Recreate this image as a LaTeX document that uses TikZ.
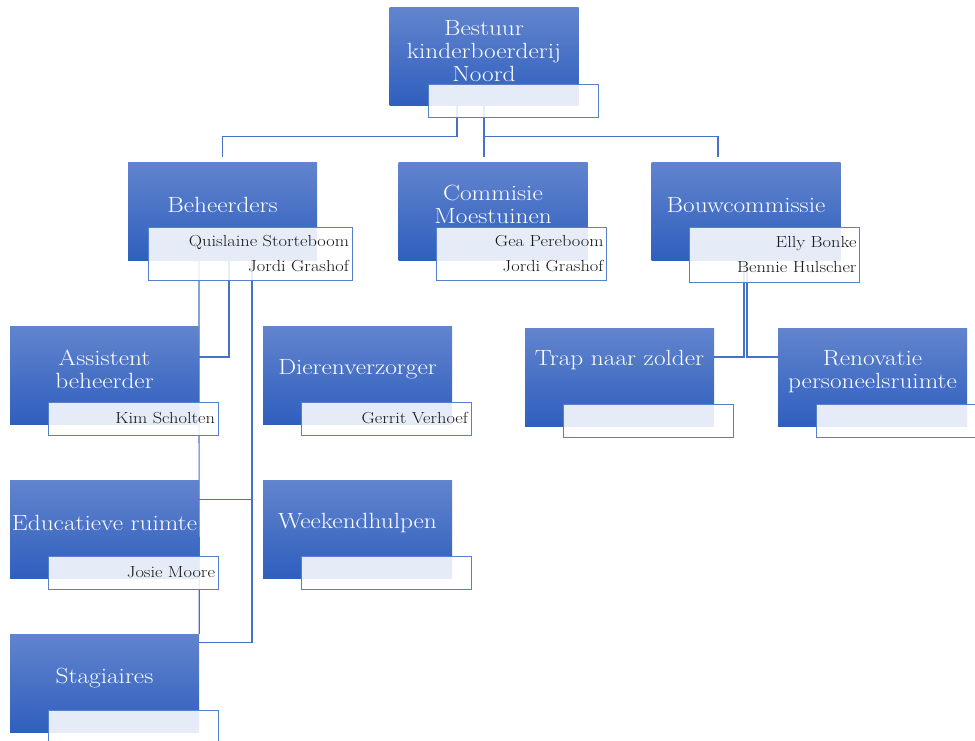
\documentclass[tikz,border=0pt]{standalone}
\usepackage{fontspec}
\setmainfont{Latin Modern Roman}[FakeStretch=1.15]
\usetikzlibrary{positioning,backgrounds}
\definecolor{blauwboven}{RGB}{98,132,205}
\definecolor{blauwonder}{RGB}{47,95,190}
\definecolor{lijnblauw}{RGB}{68,114,196}
\newcommand{\titelfont}{\fontsize{22}{23}\selectfont}
\newcommand{\namenfont}{\fontsize{16}{25}\selectfont}

\begin{document}
\begin{tikzpicture}[x=1pt,y=-1pt,
  hoofd/.style={rectangle,draw=none,inner sep=0pt,minimum width=189pt,minimum height=98pt,
    top color=blauwboven,bottom color=blauwonder},
  namen/.style={rectangle,draw=lijnblauw!90,line width=1pt,fill=white,fill opacity=0.88,
    text opacity=1,inner sep=3pt,text width=164pt,minimum height=33pt,align=right,
    font=\namenfont,text=black!90},
  titel/.style={text=white,align=center,inner sep=0pt,font=\titelfont},
  lijn/.style={draw=lijnblauw,line width=1.2pt}]
\clip (0,0) rectangle (975,740);
% hoofdvakken
\node [hoofd] (top) at (484,56.5) {};
\node [hoofd] (beh) at (222.5,211) {};
\node [hoofd] (com) at (493,211) {};
\node [hoofd] (bouw) at (746,211) {};
\node [hoofd] (ass) at (104.5,375) {};
\node [hoofd] (dier) at (357.5,375) {};
\node [hoofd] (edu) at (104.5,529) {};
\node [hoofd] (week) at (357.5,529) {};
\node [hoofd] (stag) at (104.5,683) {};
\node [hoofd] (trap) at (619.5,377) {};
\node [hoofd] (ren) at (872.5,377) {};
% titels
\node [titel] (top-t) at (484,51) {Bestuur\\kinderboerderij\\Noord};
\node [titel] (beh-t) at (222.5,205) {Beheerders};
\node [titel] (com-t) at (493,204.5) {Commisie\\Moestuinen};
\node [titel] (bouw-t) at (746,205) {Bouwcommissie};
\node [titel] (ass-t) at (104.5,369.5) {Assistent\\beheerder};
\node [titel] (dier-t) at (357.5,369) {Dierenverzorger};
\node [titel] (edu-t) at (104.5,523) {Educatieve ruimte};
\node [titel] (week-t) at (357.5,523) {Weekendhulpen};
\node [titel] (stag-t) at (104.5,678) {Stagiaires};
\node [titel] (trap-t) at (619.5,360) {Trap naar zolder};
\node [titel] (ren-t) at (872.5,371.5) {Renovatie\\personeelsruimte};
% namen
\node [namen] (top-n) at (513,100.5) {};
\node [namen,text width=198pt,minimum height=53pt] (beh-n) at (250,253.5) {Quislaine Storteboom\\Jordi Grashof};
\node [namen,minimum height=53pt] (com-n) at (521.5,253.5) {Gea Pereboom\\Jordi Grashof};
\node [namen,minimum height=55pt] (bouw-n) at (774.5,254.5) {Elly Bonke\\Bennie Hulscher};
\node [namen] (ass-n) at (133,418.5) {Kim Scholten};
\node [namen] (dier-n) at (386,418.5) {Gerrit Verhoef};
\node [namen] (edu-n) at (133,572.5) {Josie Moore};
\node [namen] (week-n) at (386,572.5) {};
\node [namen] (stag-n) at (133,726.5) {};
\node [namen] (trap-n) at (648,420.5) {};
\node [namen] (ren-n) at (901,420.5) {};
% verbindingen
\begin{scope}[on background layer]
\draw [lijn,shorten >=5pt] ([xshift=-27pt]top.south) -- ++(0,31) -| (beh.north);
\draw [lijn,shorten >=5pt] (top.south) -- (top.south |- com.north);
\draw [lijn,shorten >=5pt] (top.south) ++(0,31) -| ([xshift=-28pt]bouw.north);
\draw [lijn] ([xshift=-23.5pt]beh.south) -- (stag.north east);
\draw [lijn] ([xshift=6.5pt]beh.south) |- ([yshift=18pt]ass.east);
\draw [lijn] ([xshift=29.5pt]beh.south) |- ([yshift=-9pt]stag.north east);
\draw [lijn] ([yshift=-20pt]edu.north east) -| ([xshift=29.5pt]beh.south);
\draw [lijn] ([xshift=-2pt]bouw.south) |- ([yshift=20pt]trap.east);
\draw [lijn] ([xshift=1pt]bouw.south) |- ([yshift=20pt]ren.west);
\end{scope}
\end{tikzpicture}
\end{document}
